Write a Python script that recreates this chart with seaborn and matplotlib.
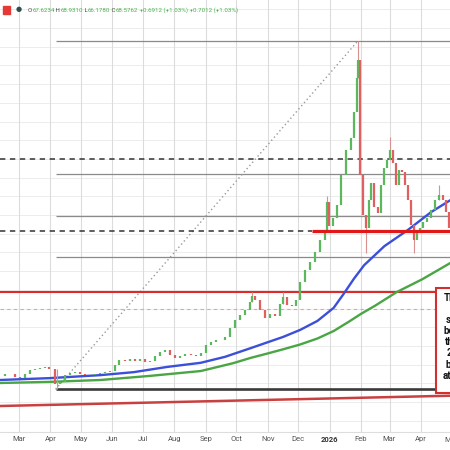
import matplotlib
matplotlib.use("Agg")
import matplotlib.pyplot as plt
from matplotlib.patches import Rectangle
import seaborn as sns
import pandas as pd

# price samples (close)
candle_dates = ["2025-02-10", "2025-02-15", "2025-02-20", "2025-02-25", "2025-03-02", "2025-03-07",
                "2025-03-12", "2025-03-17", "2025-03-22", "2025-03-27", "2025-03-31", "2025-04-05",
                "2025-04-10", "2025-04-15", "2025-04-20", "2025-04-25", "2025-04-30", "2025-05-05",
                "2025-05-10", "2025-05-15", "2025-05-20", "2025-05-25", "2025-05-30", "2025-06-04",
                "2025-06-08", "2025-06-13", "2025-06-18", "2025-06-23", "2025-06-28", "2025-07-03",
                "2025-07-08", "2025-07-13", "2025-07-18", "2025-07-23", "2025-07-28", "2025-08-02",
                "2025-08-07", "2025-08-12", "2025-08-17", "2025-08-22", "2025-08-27", "2025-09-01",
                "2025-09-06", "2025-09-11", "2025-09-15", "2025-09-20", "2025-09-25", "2025-09-30",
                "2025-10-05", "2025-10-10", "2025-10-15", "2025-10-17", "2025-10-19", "2025-10-24",
                "2025-10-29", "2025-11-03", "2025-11-08", "2025-11-13", "2025-11-16", "2025-11-20",
                "2025-11-25", "2025-11-29", "2025-12-03", "2025-12-08", "2025-12-13", "2025-12-18",
                "2025-12-23", "2025-12-27", "2025-12-29", "2025-12-31", "2026-01-04", "2026-01-08",
                "2026-01-12", "2026-01-17", "2026-01-22", "2026-01-25", "2026-01-28", "2026-01-29",
                "2026-01-31", "2026-02-03", "2026-02-06", "2026-02-09", "2026-02-11", "2026-02-14",
                "2026-02-18", "2026-02-21", "2026-02-24", "2026-02-27", "2026-03-01", "2026-03-04",
                "2026-03-07", "2026-03-10", "2026-03-13", "2026-03-16", "2026-03-19", "2026-03-22",
                "2026-03-25", "2026-03-28", "2026-03-31", "2026-04-03", "2026-04-07", "2026-04-11",
                "2026-04-15", "2026-04-19", "2026-04-23", "2026-04-26", "2026-04-29"]
closes = [32.0, 32.5, 32.5, 31.7, 31.4, 32.5,
          33.6, 33.8, 34.1, 34.4, 33.8, 29.8,
          30.4, 32.2, 32.7, 33.0, 32.5, 32.2,
          32.2, 32.5, 32.7, 33.0, 33.3, 34.9,
          36.3, 36.0, 36.5, 36.0, 36.5, 35.7,
          36.0, 37.3, 38.4, 38.9, 37.6, 36.8,
          37.3, 37.9, 37.6, 37.3, 38.1, 40.3,
          41.1, 41.6, 41.6, 42.4, 44.8, 47.0,
          48.3, 49.6, 51.8, 53.4, 52.3, 49.6,
          47.5, 48.6, 48.0, 51.2, 53.1, 51.0,
          50.7, 52.3, 57.1, 60.3, 62.5, 65.1,
          68.3, 71.0, 78.5, 72.0, 74.2, 77.7,
          85.7, 92.4, 95.6, 102.6, 111.7, 116.5,
          85.7, 75.0, 71.5, 79.0, 83.6, 77.2,
          75.6, 83.0, 87.6, 89.7, 92.4, 88.9,
          83.0, 87.1, 86.5, 83.0, 79.0, 72.3,
          68.3, 70.5, 71.5, 73.2, 74.2, 76.4,
          79.0, 80.4, 79.0, 75.8, 71.5]

# notable wicks
wick_dates = ["2025-04-07", "2025-10-17", "2025-11-16", "2025-12-29", "2026-01-29",
              "2026-02-06", "2026-03-01", "2026-03-25", "2026-04-19"]
wick_lo = [28.4, 51.8, 51.2, 71.0, 111.7, 64.9, 89.7, 64.9, 79.0]
wick_hi = [33.8, 54.4, 54.3, 80.0, 121.6, 75.0, 95.9, 72.3, 83.0]

# 100 / 200 bar moving averages
ma100_dates = ["2025-02-10", "2025-03-31", "2025-05-20", "2025-06-22", "2025-07-25", "2025-08-27",
               "2025-09-20", "2025-10-15", "2025-11-01", "2025-11-16", "2025-12-03", "2025-12-20",
               "2026-01-05", "2026-01-15", "2026-01-25", "2026-02-04", "2026-02-24", "2026-03-19",
               "2026-04-11", "2026-04-30"]
ma100 = [30.9, 31.4, 32.2, 33.0, 34.4, 35.5, 37.1, 39.4, 41.0, 42.4, 44.3, 46.7,
         50.2, 54.0, 58.0, 61.6, 66.7, 71.0, 75.8, 79.0]
ma200_dates = ["2025-02-10", "2025-03-31", "2025-05-20", "2025-07-08", "2025-08-27", "2025-09-28",
               "2025-10-15", "2025-11-01", "2025-11-16", "2025-12-03", "2025-12-20", "2026-01-05",
               "2026-01-20", "2026-02-01", "2026-02-15", "2026-03-08", "2026-04-02", "2026-04-30"]
ma200 = [30.1, 30.4, 30.9, 32.0, 33.3, 35.4, 36.8, 38.0, 39.1, 40.4, 42.0, 44.0,
         46.5, 48.6, 50.8, 54.4, 57.8, 62.2]

# levels
fib_levels = [121.6, 86.0, 74.8, 63.9]
fib_base = 28.4
dashed_levels = [89.9, 70.8]
red_level = 54.35
pink_level = 49.8

month_ticks = ["2025-03-01", "2025-04-01", "2025-05-01", "2025-06-01", "2025-07-01", "2025-08-01",
               "2025-09-01", "2025-10-01", "2025-11-01", "2025-12-01", "2026-01-01", "2026-02-01",
               "2026-03-01", "2026-04-01"]
month_labels = ["Mar", "Apr", "May", "Jun", "Jul", "Aug", "Sep", "Oct", "Nov", "Dec", "2026",
                "Feb", "Mar", "Apr"]

header_parts = ["O", "67.6234", " H", "68.9310", " L", "66.1780", " C", "68.5762",
                " +0.6912 (+1.03%)", " +0.7012 (+1.03%)"]
header_colors = ["#444444", "#4caf50"] * 4 + ["#4caf50", "#4caf50"]

box_lines = ["The", "", "silver", "below", "the", "200", "bars", "at"]
box_x = [444, 448, 446, 443, 445, 446.5, 445, 442.5]

sns.set_theme(style="white")
plt.rcParams['font.family'] = ['Roboto', 'DejaVu Sans']

fig = plt.figure(figsize=(4.5, 4.5), dpi=100)
ax = fig.add_axes([0, 0.04, 1, 0.96])

x0 = pd.Timestamp("2025-02-10 07:00")
x1 = pd.Timestamp("2026-04-29 14:00")
ax.set_xlim(x0, x1)
ax.set_ylim(17.0, 132.5)

# grid
for lvl in range(20, 135, 5):
    ax.axhline(lvl, color="#ececec", lw=0.7, zorder=0)
for m in month_ticks:
    ax.axvline(pd.Timestamp(m), color="#dcdcdc", lw=0.8, zorder=0)

fib_start = pd.Timestamp("2025-04-06")
box_edge = pd.Timestamp("2026-04-16")

# fib retracement
for lvl in fib_levels:
    ax.hlines(lvl, fib_start, x1, color="#8a8a8a", lw=0.9, zorder=1)
ax.hlines(fib_base, fib_start, box_edge, color="#3a3a3a", lw=1.9, zorder=1)
ax.plot([fib_start, pd.Timestamp("2026-01-29")], [fib_base, fib_levels[0]],
        color="#9a9a9a", lw=1.0, ls=(0, (1, 2)), zorder=1)

# dashed levels
ax.hlines(dashed_levels[0], x0, x1, color="#333333", lw=1.1, ls=(0, (3.5, 3)), zorder=1)
ax.hlines(dashed_levels[1], x0, pd.Timestamp("2025-12-15"), color="#333333", lw=1.1,
          ls=(0, (3.5, 3)), zorder=1)
ax.hlines(red_level, x0, box_edge, color="#e02a2a", lw=1.5, zorder=2)
ax.hlines(pink_level, x0, box_edge, color="#e8a0a0", lw=0.8, ls=(0, (3, 3)), zorder=1)

# bottom trend line
ax.plot([x0, x1], [23.95, 26.7], color="#c94040", lw=1.8, zorder=2)

# moving averages
sns.lineplot(x=pd.to_datetime(ma100_dates), y=ma100, ax=ax, color="#3b4fd8", lw=1.7, zorder=3)
sns.lineplot(x=pd.to_datetime(ma200_dates), y=ma200, ax=ax, color="#4aa544", lw=1.7, zorder=3)

# candles
cd = pd.to_datetime(candle_dates)
opens = [closes[0]] + closes[:-1]
cols = ["#5cb85c" if c >= o else "#e06060" for o, c in zip(opens, closes)]
wd = pd.to_datetime(wick_dates)
ax.vlines(wd, wick_lo, wick_hi, color="#d89090", lw=0.8, zorder=4)
ax.vlines(cd, opens, closes, colors=cols, lw=1.6, zorder=5)

# red thick level
ax.hlines(dashed_levels[1], pd.Timestamp("2025-12-15"), x1, color="#e01818", lw=2.3, zorder=6)

# axes styling
for s in ["top", "left", "right"]:
    ax.spines[s].set_visible(False)
ax.spines["bottom"].set_color("#dddddd")
ax.spines["bottom"].set_linewidth(0.8)
ax.set_yticks([])
ax.set_xticks(pd.to_datetime(month_ticks))
ax.set_xticklabels(month_labels)
ax.tick_params(axis="x", length=0, pad=3, labelsize=5.5, labelcolor="#555555")
for t in ax.get_xticklabels():
    if t.get_text() == "2026":
        t.set_fontweight("bold")
        t.set_color("#333333")
ax.text(pd.Timestamp("2026-05-01"), -0.0185, "May", transform=ax.get_xaxis_transform(),
        ha="center", va="center", fontsize=5.5, color="#555555", clip_on=False)
ax.set_xlabel("")
ax.set_ylabel("")

# OHLC header, pieces laid out one after another
fig.patches.append(Rectangle((3 / 450, 1 - 14 / 450), 7 / 450, 8 / 450, transform=fig.transFigure,
                             color="#e53935"))
fig.text(19 / 450, 1 - 10 / 450, "\u25CF", fontsize=5, color="#2f4f4f", ha="center", va="center")
header_texts = [fig.text(0, 1 - 10 / 450, s, fontsize=4.4, color=c, ha="left", va="center")
                for s, c in zip(header_parts, header_colors)]
fig.canvas.draw()
r = fig.canvas.get_renderer()
xpos = 28
for t in header_texts:
    t.set_x(xpos / 450)
    xpos += t.get_window_extent(r).width

# annotation box on the right
fig.patches.append(Rectangle((436 / 450, 1 - 393 / 450), 30 / 450, 105 / 450,
                             transform=fig.transFigure, facecolor="white",
                             edgecolor="#d32f2f", lw=1.5, zorder=10))
for i, (s, px) in enumerate(zip(box_lines, box_x)):
    fig.text(px / 450, 1 - (298 + i * 11.1) / 450, s, fontsize=7, fontweight="bold",
             color="#111111", ha="left", va="center", zorder=11)

fig.savefig("out.png", dpi=100)
